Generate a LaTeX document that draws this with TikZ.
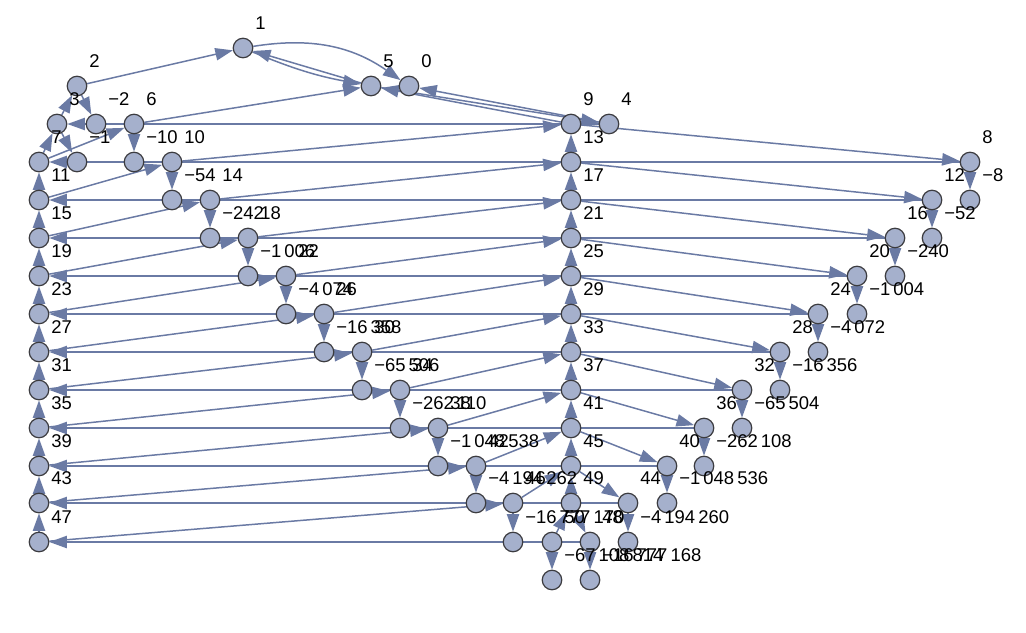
\documentclass[tikz,border=0pt]{standalone}
\usepackage{fontspec}
\setmainfont{Liberation Sans}
\usetikzlibrary{arrows.meta, backgrounds}
\definecolor{vfill}{RGB}{165,176,204}
\definecolor{vline}{RGB}{60,60,64}
\definecolor{ecol}{RGB}{106,122,164}

\begin{document}
\begin{tikzpicture}[
  x=0.02cm, y=-0.02cm,
  vert/.style={draw=vline, fill=vfill, circle, line width=0.7pt, minimum size=0.39cm, inner sep=0pt},
  lbl/.style={anchor=west, inner sep=0pt, font=\fontsize{10.5}{12}\selectfont},
  edge/.style={draw=ecol, line width=0.85pt, -{Triangle[length=10pt, width=7pt]}}
]
\useasboundingbox (0,0) rectangle (1026,632);

% vertices: name / x / y / label
\foreach \n/\x/\y/\t in {
  1/243/48/1, 2/77/86/2, 5/371/86/5, 0/409/86/0,
  3/57/124/3, m2/96/124/−2, 6/134/124/6, 9/571/124/9, 4/609/124/4,
  7/39/162/7, m1/77/162/−1, m10/134/162/−10, 10/172/162/10, 13/571/162/13, 8/970/162/8,
  11/39/200/11, m54/172/200/−54, 14/210/200/14, 17/571/200/17, 12/932/200/12, m8/970/200/−8,
  15/39/238/15, m242/210/238/−242, 18/248/238/18, 21/571/238/21, 16/895/238/16, m52/932/238/−52,
  19/39/276/19, m1006/248/276/−1\thinspace006, 22/286/276/22, 25/571/276/25, 20/857/276/20, m240/895/276/−240,
  23/39/314/23, m4074/286/314/−4\thinspace074, 26/324/314/26, 29/571/314/29, 24/818/314/24, m1004/857/314/−1\thinspace004,
  27/39/352/27, m16358/324/352/−16\thinspace358, 30/362/352/30, 33/571/352/33, 28/780/352/28, m4072/818/352/−4\thinspace072,
  31/39/390/31, m65506/362/390/−65\thinspace506, 34/400/390/34, 37/571/390/37, 32/742/390/32, m16356/780/390/−16\thinspace356,
  35/39/428/35, m262110/400/428/−262\thinspace110, 38/438/428/38, 41/571/428/41, 36/704/428/36, m65504/742/428/−65\thinspace504,
  39/39/466/39, m1048538/438/466/−1\thinspace048\thinspace538, 42/476/466/42, 45/571/466/45, 40/667/466/40, m262108/704/466/−262\thinspace108,
  43/39/503/43, m4194262/476/503/−4\thinspace194\thinspace262, 46/513/503/46, 49/571/503/49, 44/628/503/44, m1048536/667/503/−1\thinspace048\thinspace536,
  47/39/542/47, m16777170/513/542/−16\thinspace777\thinspace170, 50/552/542/50, 48/590/542/48, m4194260/628/542/−4\thinspace194\thinspace260,
  m67108814/552/580/−67\thinspace108\thinspace814, m16777168/590/580/−16\thinspace777\thinspace168}
{
  \node[vert] (v\n) at (\x,\y) {};
  \node[lbl] (t\n) at (\x+12,\y-25) {\t};
}

\begin{scope}[on background layer]
% n -> n-1
\foreach \n in {2,...,50} {
  \pgfmathtruncatemacro\p{\n-1}
  \draw[edge] (v\n) -- (v\p);
}
\draw[edge] (v1) to[bend left=22] (v0);
% odd n -> n-4
\draw[edge] (v3) -- (vm1);
\foreach \n in {5,7,...,49} {
  \pgfmathtruncatemacro\p{\n-4}
  \draw[edge] (v\n) -- (v\p);
}
\draw[edge] (v1) to[bend right=6] (v5);
% even n -> n - 4^k
\foreach \a/\b in {2/m2, 4/0, 6/m10, 8/m8, 10/m54, 12/m52, 14/m242, 16/m240,
  18/m1006, 20/m1004, 22/m4074, 24/m4072, 26/m16358, 28/m16356, 30/m65506,
  32/m65504, 34/m262110, 36/m262108, 38/m1048538, 40/m1048536, 42/m4194262,
  44/m4194260, 46/m16777170, 48/m16777168, 50/m67108814}
  \draw[edge] (v\a) -- (v\b);
\end{scope}
\end{tikzpicture}
\end{document}
